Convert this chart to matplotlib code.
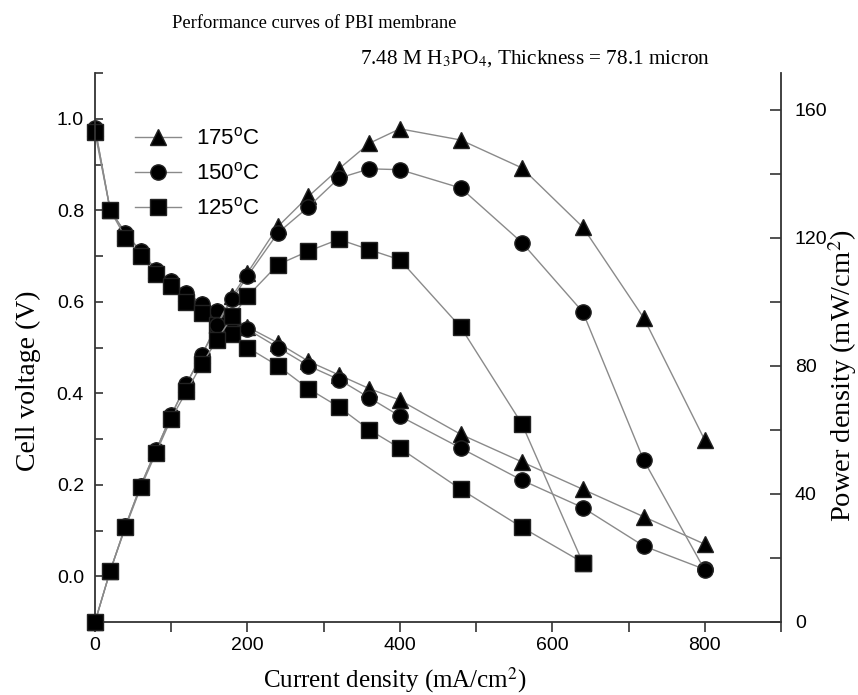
import matplotlib
matplotlib.use("Agg")
import matplotlib.pyplot as plt
from matplotlib.font_manager import FontProperties

plt.rcParams['mathtext.fontset'] = 'custom'
plt.rcParams['mathtext.rm'] = 'Liberation Sans'
plt.rcParams['mathtext.it'] = 'Liberation Sans:italic'
plt.rcParams['mathtext.bf'] = 'Liberation Sans:bold'

# ---- data ----
current = [0, 20, 40, 60, 80, 100, 120, 140, 160, 180, 200, 240, 280, 320, 360,
           400, 480, 560, 640, 720, 800]
current_125 = current[:19]

v_175 = [0.98, 0.80, 0.75, 0.71, 0.67, 0.645, 0.62, 0.595, 0.58, 0.565, 0.545,
         0.51, 0.47, 0.44, 0.41, 0.385, 0.31, 0.25, 0.19, 0.13, 0.07]
v_150 = [0.98, 0.80, 0.75, 0.71, 0.67, 0.645, 0.62, 0.595, 0.58, 0.56, 0.54,
         0.50, 0.46, 0.43, 0.39, 0.35, 0.28, 0.21, 0.15, 0.066, 0.015]
v_125 = [0.97, 0.80, 0.74, 0.70, 0.66, 0.635, 0.60, 0.575, 0.55, 0.53, 0.50,
         0.46, 0.41, 0.37, 0.32, 0.28, 0.19, 0.107, 0.03]

p_175 = [0, 16, 30, 42.6, 53.6, 64.5, 74.4, 83.3, 92.8, 101.7, 109, 123.5,
         132.9, 141.5, 149.5, 154, 150.5, 141.8, 123.3, 94.9, 56.8]
p_150 = [0, 16, 30, 42.6, 53.6, 64.5, 74.4, 83.3, 92.8, 100.8, 108, 121.5,
         129.6, 138.6, 141.5, 141.25, 135.5, 118.5, 96.8, 50.5, 16.2]
p_125 = [0, 16, 29.6, 42, 52.8, 63.5, 72, 80.5, 88, 95.4, 101.7, 111.6, 115.8,
         119.5, 116.25, 113.1, 92, 61.9, 18.5]

labels = ['175$^{\\mathrm{o}}$C', '150$^{\\mathrm{o}}$C', '125$^{\\mathrm{o}}$C']
x_ticks = [0, 200, 400, 600, 800]
v_ticks = [0.0, 0.2, 0.4, 0.6, 0.8, 1.0]
p_ticks = [0, 40, 80, 120, 160]

# ---- figure ----
fig = plt.figure(figsize=(8.58, 6.95), dpi=100)
ax = fig.add_axes([95/858, 73/695, 686/858, 549/695])
ax2 = ax.twinx()

line_col = '#8a8a8a'
ms = 11
kw = dict(color=line_col, lw=1.0, markerfacecolor='black', markeredgecolor='#222222',
          markersize=ms, clip_on=False)

h1, = ax.plot(current, v_175, marker='^', **kw)
h2, = ax.plot(current, v_150, marker='o', **kw)
h3, = ax.plot(current_125, v_125, marker='s', **kw)
ax2.plot(current, p_175, marker='^', **kw)
ax2.plot(current, p_150, marker='o', **kw)
ax2.plot(current_125, p_125, marker='s', **kw)

ax.set_xlim(0, 900)
ax.set_ylim(-0.1, 1.1)
ax2.set_ylim(0, 171.43)

tick_font = FontProperties(family='Liberation Sans', size=14)
serif = 'Liberation Serif'

ax.set_xticks(x_ticks)
ax.set_xticks([100, 300, 500, 700, 900], minor=True)
ax.set_xticklabels([str(t) for t in x_ticks], fontproperties=tick_font)
ax.set_yticks(v_ticks)
ax.set_yticks([-0.1, 0.1, 0.3, 0.5, 0.7, 0.9, 1.1], minor=True)
ax.set_yticklabels([f'{t:.1f}' for t in v_ticks], fontproperties=tick_font)
ax2.set_yticks(p_ticks)
ax2.set_yticks([20, 60, 100, 140], minor=True)
ax2.set_yticklabels([str(t) for t in p_ticks], fontproperties=tick_font)

spine_col = '#333333'
for a in (ax, ax2):
    a.spines['top'].set_visible(False)
    for s in a.spines.values():
        s.set_linewidth(1.3)
        s.set_color(spine_col)
ax2.spines['left'].set_visible(False)
ax2.spines['bottom'].set_visible(False)
ax.spines['right'].set_visible(False)

ax.tick_params(axis='x', which='both', direction='out', length=7, width=1.2,
               color=spine_col, pad=4)
ax.tick_params(axis='y', which='both', direction='in', length=6, width=1.2,
               color=spine_col, pad=8)
ax2.tick_params(axis='y', which='both', direction='in', length=8, width=1.2,
                color=spine_col, pad=10)

ax.set_xlabel('Current density (mA/cm$^2$)', family=serif, fontsize=18,
              math_fontfamily='stix')
ax.xaxis.set_label_coords((395 - 95) / 686, (622 - 665) / 549)
ax.set_ylabel('Cell voltage (V)', family=serif, fontsize=20)
ax.yaxis.set_label_coords((41 - 95) / 686, (622 - 381) / 549)
ax2.set_ylabel('Power density (mW/cm$^2$)', family=serif, fontsize=20.5,
               math_fontfamily='stix')
ax2.yaxis.set_label_coords((826 - 95) / 686, (622 - 376) / 549)

fig.text(172/858, 1 - 24/695, 'Performance curves of PBI membrane', family=serif,
         fontsize=13.3, va='center', ha='left')
fig.text(360/858, 1 - 59/695, '7.48 M H$_3$PO$_4$, Thickness = 78.1 micron',
         family=serif, fontsize=15.3, va='center', ha='left', math_fontfamily='stix')

ax2.set_zorder(ax.get_zorder() + 1)
ax.patch.set_visible(True)
ax2.patch.set_visible(False)

leg_font = FontProperties(family='Liberation Sans', size=16, math_fontfamily='custom')
ax.legend([h1, h2, h3], labels, loc='upper left', bbox_to_anchor=(0.045, 0.9165),
          frameon=False, prop=leg_font, numpoints=1, handlelength=2.1,
          handletextpad=0.65, labelspacing=0.58, borderaxespad=0)

fig.savefig('out.png', dpi=100)
